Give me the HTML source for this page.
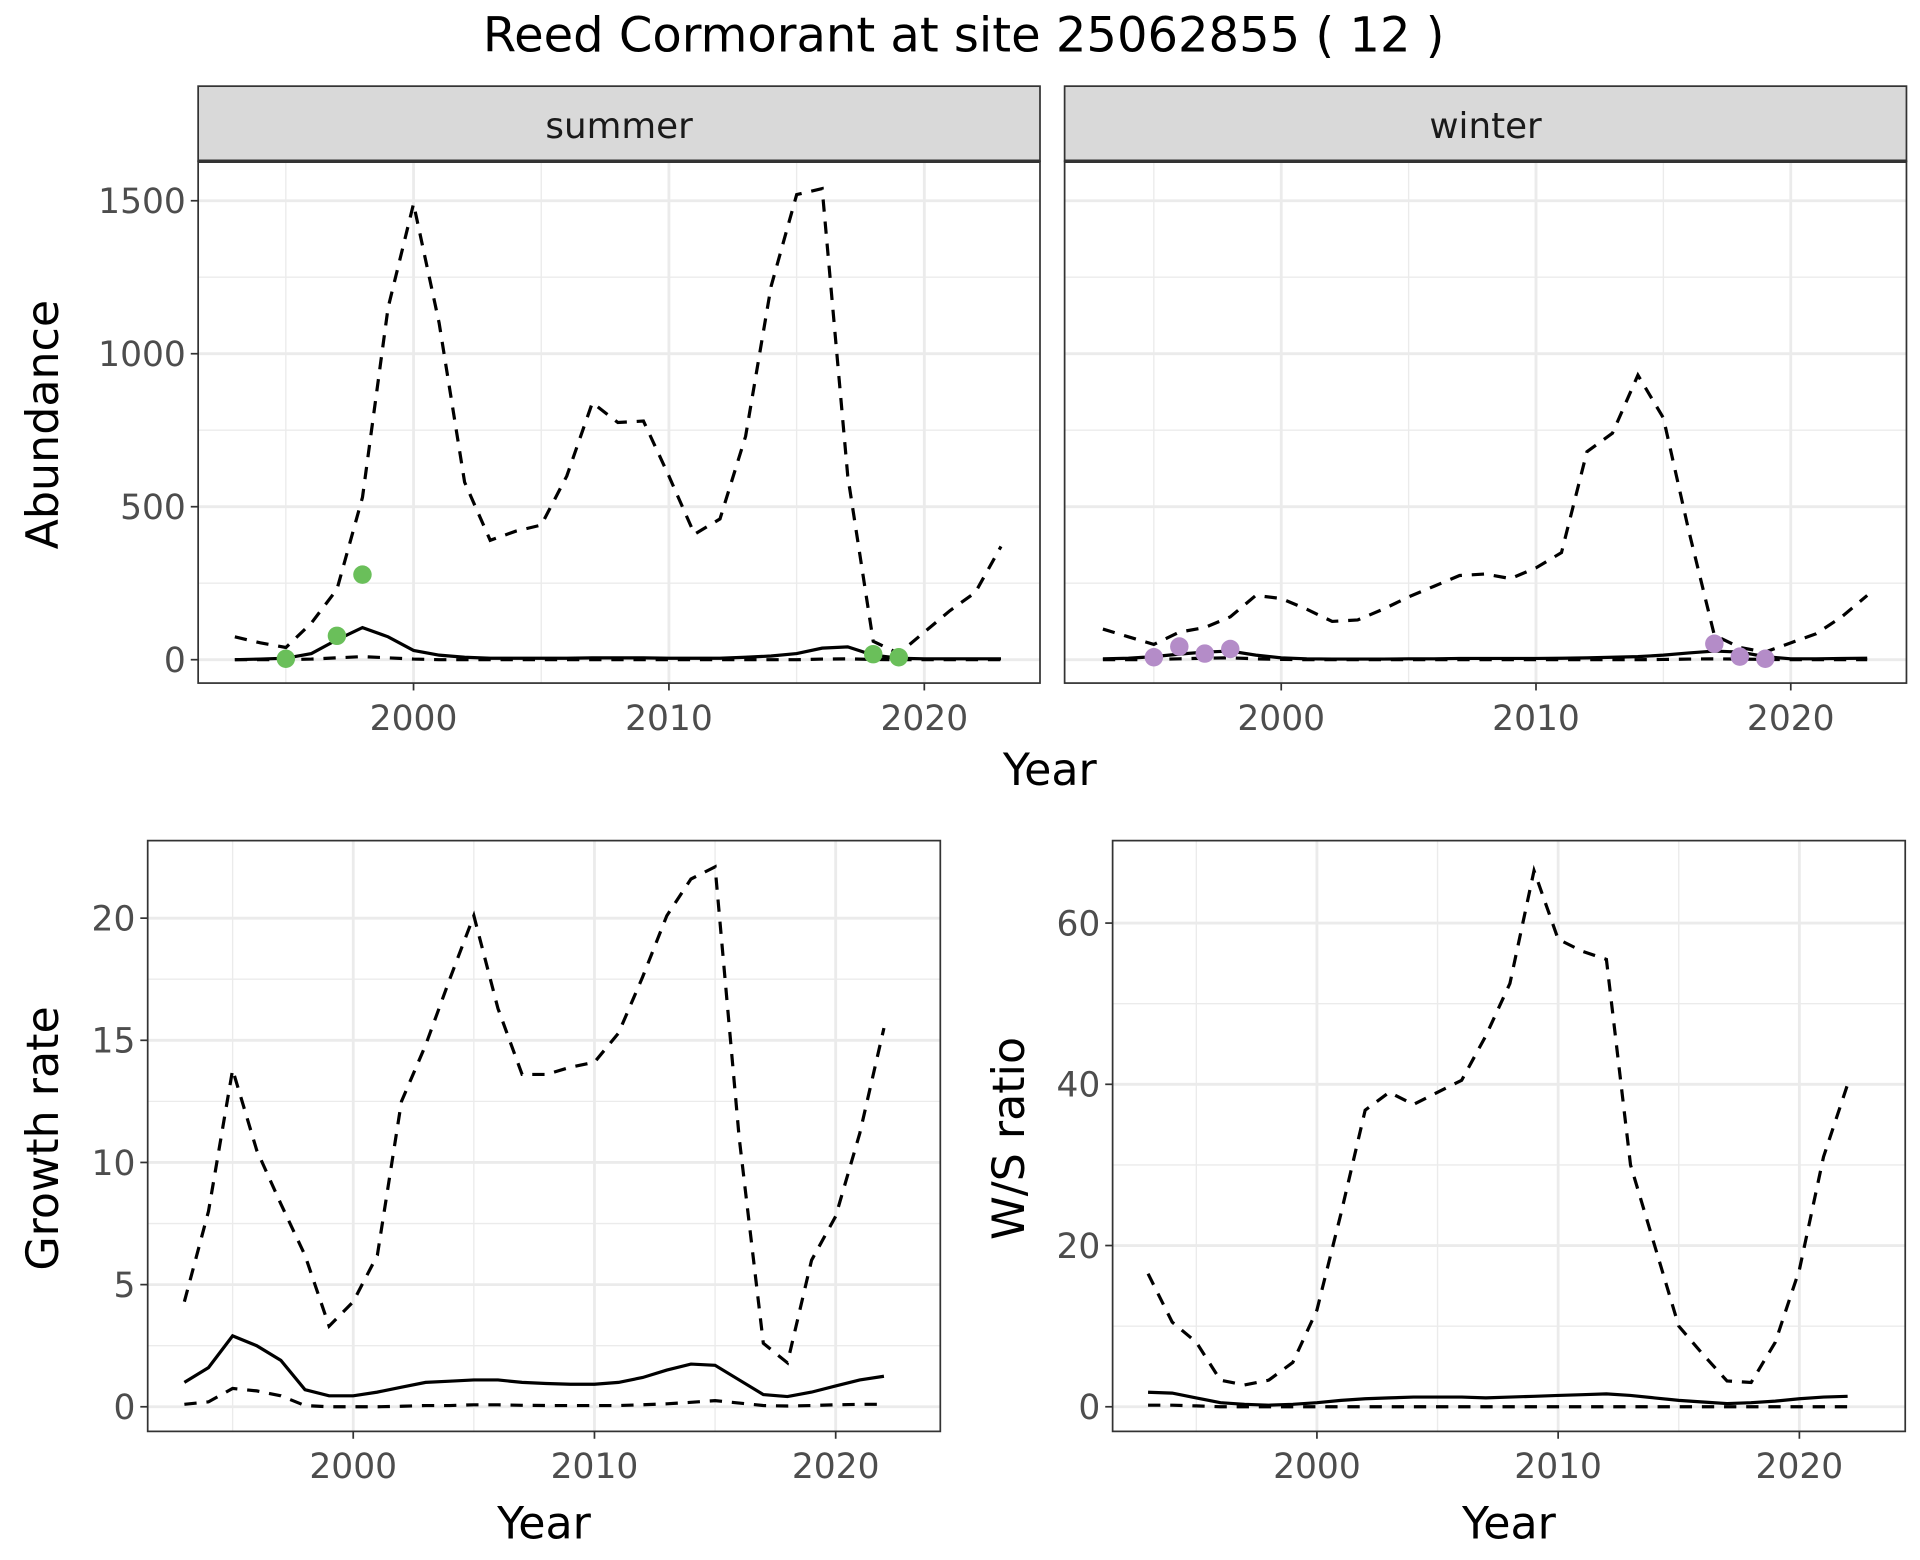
<!DOCTYPE html>
<html><head><meta charset="utf-8"><style>
html,body{margin:0;padding:0;background:#fff}
svg{display:block}
text{font-family:"DejaVu Sans","Liberation Sans",sans-serif}
</style></head><body>
<svg id="chart" width="1920" height="1560" viewBox="0 0 1560 1267.5" xmlns="http://www.w3.org/2000/svg">
<text x="783" y="42" font-size="39" text-anchor="middle" fill="#000">Reed Cormorant at site 25062855 ( 12 )</text>
<g id="g"></g>
</svg>
<script>
// ---- data ----
const years = [1993,1994,1995,1996,1997,1998,1999,2000,2001,2002,2003,2004,2005,2006,2007,2008,2009,2010,2011,2012,2013,2014,2015,2016,2017,2018,2019,2020,2021,2022,2023];
const summerUpper = [75,55,40,120,230,530,1150,1490,1100,580,390,420,440,600,840,775,780,600,410,460,730,1220,1520,1540,600,60,20,90,160,220,370];
const summerMean = [0,2,5,20,65,105,75,30,15,8,5,5,5,5,6,6,6,5,5,5,8,12,20,38,42,15,5,3,3,3,3];
const summerLower = [0,0,0,2,6,10,6,2,0,0,0,0,0,0,0,0,0,0,0,0,0,0,0,2,3,1,0,0,0,0,0];
const summerObsYears = [1995,1997,1998,2018,2019];
const summerObs = [3,78,278,18,8];
const winterUpper = [100,75,50,90,105,140,210,200,165,125,130,165,205,240,275,280,265,300,350,680,740,930,790,420,80,40,25,55,85,140,210];
const winterMean = [3,5,10,18,25,28,15,6,3,2,2,2,3,3,4,4,4,4,5,6,8,10,15,22,28,25,10,3,3,4,5];
const winterLower = [0,0,1,3,5,6,3,1,0,0,0,0,0,0,0,0,0,0,0,0,0,0,1,2,3,2,1,0,0,0,0];
const winterObsYears = [1995,1996,1997,1998,2017,2018,2019];
const winterObs = [8,43,20,35,52,10,3];
const years2 = years.slice(0,30);
const growthUpper = [4.3,8,13.8,10.5,8.3,6.2,3.3,4.3,6.2,12.5,14.8,17.5,20.1,16.3,13.6,13.6,13.9,14.1,15.3,17.6,20.1,21.6,22.1,11,2.6,1.8,6,7.8,11.2,15.5];
const growthMean = [1.0,1.6,2.9,2.5,1.9,0.7,0.45,0.45,0.6,0.8,1.0,1.05,1.1,1.1,1.0,0.95,0.92,0.92,1.0,1.2,1.5,1.75,1.7,1.1,0.5,0.42,0.6,0.85,1.1,1.25];
const growthLower = [0.1,0.2,0.75,0.65,0.45,0.05,0,0,0,0.02,0.05,0.05,0.08,0.08,0.06,0.05,0.05,0.05,0.05,0.08,0.12,0.18,0.25,0.15,0.05,0.03,0.05,0.08,0.1,0.1];
const wsUpper = [16.5,10.5,8,3.3,2.7,3.3,5.5,12,24,36.8,39,37.5,39,40.5,46,52.5,66.5,58,56.5,55.5,30,20,10,6.5,3.2,3,8,17,31,40];
const wsMean = [1.8,1.7,1.1,0.5,0.3,0.2,0.3,0.5,0.8,1.0,1.1,1.2,1.2,1.2,1.1,1.2,1.3,1.4,1.5,1.6,1.4,1.1,0.8,0.6,0.4,0.5,0.7,1.0,1.2,1.3];
const wsLower = [0.2,0.2,0.1,0,0,0,0,0,0,0,0,0,0,0,0,0,0,0,0,0,0,0,0,0,0,0,0,0,0,0];
const xTicks = [2000,2010,2020];
const xMinor = [1995,2005,2015];
const abTicks = [0,500,1000,1500];
const abMinor = [250,750,1250];
const grTicks = [0,5,10,15,20];
const grMinor = [2.5,7.5,12.5,17.5];
const wsTicks = [0,20,40,60];
const wsMinor = [10,30,50];

const NS = "http://www.w3.org/2000/svg";
const G = document.getElementById('g');
function mk(tag, attrs, parent){const e=document.createElementNS(NS,tag);for(const k in attrs)e.setAttribute(k,attrs[k]);(parent||G).appendChild(e);return e;}

function panel(p){
  const sx = y => p.x2000 + (y-2000)*p.ppy;
  const sy = v => p.yZero - v*p.ppu;
  const g = mk('g',{});
  
  
  mk('rect',{x:p.x0,y:p.y0,width:p.x1-p.x0,height:p.y1-p.y0,fill:'#fff'},g);
  p.minorY.forEach(v=>{const l=mk('line',{x1:p.x0,x2:p.x1,y1:sy(v),y2:sy(v),stroke:'#ebebeb','stroke-width':1.1},g);});
  xMinor.forEach(v=>{const l=mk('line',{y1:p.y0,y2:p.y1,x1:sx(v),x2:sx(v),stroke:'#ebebeb','stroke-width':1.1},g);});
  p.ticksY.forEach(v=>{const l=mk('line',{x1:p.x0,x2:p.x1,y1:sy(v),y2:sy(v),stroke:'#ebebeb','stroke-width':2.3},g);});
  xTicks.forEach(v=>{const l=mk('line',{y1:p.y0,y2:p.y1,x1:sx(v),x2:sx(v),stroke:'#ebebeb','stroke-width':2.3},g);});
  const line=(xs,vs,dash,nm)=>{const d=xs.map((y,i)=>(i?'L':'M')+sx(y).toFixed(1)+','+sy(vs[i]).toFixed(1)).join('');const e=mk('path',{d:d,fill:'none',stroke:'#000','stroke-width':2.6,'stroke-dasharray':dash?'10,8':'none'},g);};
  line(p.xs,p.upper,true,'upper-ci-line');
  line(p.xs,p.lower,true,'lower-ci-line');
  line(p.xs,p.mean,false,'mean-line');
  if(p.obsX){p.obsX.forEach((y,i)=>{const c=mk('circle',{cx:sx(y),cy:sy(p.obs[i]),r:7.5,fill:p.color},g);});}
  const b=mk('rect',{x:p.x0,y:p.y0,width:p.x1-p.x0,height:p.y1-p.y0,fill:'none',stroke:'#333','stroke-width':1.4},g);
  
  xTicks.forEach(v=>{mk('line',{x1:sx(v),x2:sx(v),y1:p.y1,y2:p.y1+6,stroke:'#333','stroke-width':1.4},g);
    const t=mk('text',{x:sx(v),y:p.y1+38,'font-size':28,'text-anchor':'middle',fill:'#4d4d4d'},g);t.textContent=v;});
  if(p.yLabels){p.ticksY.forEach(v=>{mk('line',{x1:p.x0-6,x2:p.x0,y1:sy(v),y2:sy(v),stroke:'#333','stroke-width':1.4},g);
    const t=mk('text',{x:p.x0-10,y:sy(v)+10,'font-size':28,'text-anchor':'end',fill:'#4d4d4d'},g);t.textContent=v;});}
  if(p.strip){const s=mk('rect',{x:p.x0,y:70,width:p.x1-p.x0,height:p.y0-70,fill:'#d9d9d9',stroke:'#333','stroke-width':1.4},g);
    mk('line',{x1:p.x0,x2:p.x1,y1:p.y0,y2:p.y0,stroke:'#333','stroke-width':2.8},g);
    const t=mk('text',{x:(p.x0+p.x1)/2,y:112,'font-size':29,'text-anchor':'middle',fill:'#1a1a1a'},g);t.textContent=p.strip;}
}
panel({name:'summer-panel',x0:161,x1:845,y0:131,y1:555,x2000:336,ppy:20.75,yZero:536,ppu:124.3/500,xs:years,upper:summerUpper,mean:summerMean,lower:summerLower,obsX:summerObsYears,obs:summerObs,color:'#6abf5a',ticksY:abTicks,minorY:abMinor,yLabels:true,strip:'summer'});
panel({name:'winter-panel',x0:865,x1:1549,y0:131,y1:555,x2000:1041,ppy:20.7,yZero:536,ppu:124.3/500,xs:years,upper:winterUpper,mean:winterMean,lower:winterLower,obsX:winterObsYears,obs:winterObs,color:'#b48cc8',ticksY:abTicks,minorY:abMinor,yLabels:false,strip:'winter'});
panel({name:'growth-rate-panel',x0:120,x1:764,y0:683,y1:1163,x2000:287,ppy:19.6,yZero:1143,ppu:19.85,xs:years2,upper:growthUpper,mean:growthMean,lower:growthLower,ticksY:grTicks,minorY:grMinor,yLabels:true});
panel({name:'ws-ratio-panel',x0:904,x1:1548,y0:683,y1:1163,x2000:1070,ppy:19.6,yZero:1143,ppu:6.55,xs:years2,upper:wsUpper,mean:wsMean,lower:wsLower,ticksY:wsTicks,minorY:wsMinor,yLabels:true});
function lab(txt,x,y,rot,nm){const t=mk('text',{x:x,y:y,'font-size':36,'text-anchor':'middle',fill:'#000'});if(rot)t.setAttribute('transform','rotate(-90 '+x+' '+y+')');t.textContent=txt;}
lab('Year',853,638,false,'x-axis-title-top');
lab('Abundance',47,345,true,'y-axis-title-abundance');
lab('Year',442,1250,false,'x-axis-title-growth');
lab('Growth rate',47,925,true,'y-axis-title-growth');
lab('Year',1226,1250,false,'x-axis-title-ws');
lab('W/S ratio',832,925,true,'y-axis-title-ws');
</script>
</body></html>
